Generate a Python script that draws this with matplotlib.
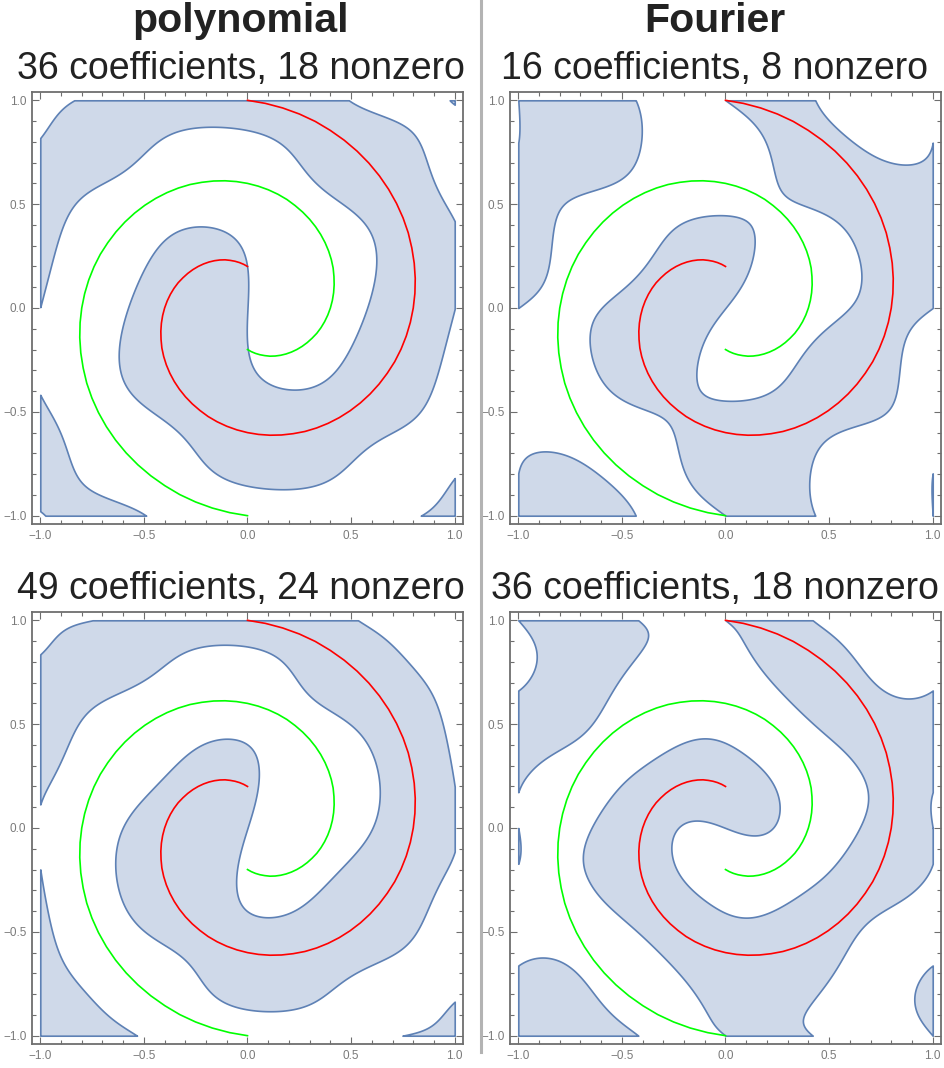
import numpy as np
import matplotlib
matplotlib.use("Agg")
import matplotlib.pyplot as plt
from matplotlib.lines import Line2D
from matplotlib.ticker import MultipleLocator

plt.rcParams["font.family"] = ["Liberation Sans", "DejaVu Sans"]

# red arm of the spiral, polar samples (degrees, radius); the green arm is the red one turned by 180 deg
spiral_angle = [90, 85, 80, 75, 70, 65, 60, 55, 50, 45, 40, 35, 30, 25, 20, 15, 10, 5, 0,
                -5, -10, -15, -20, -25, -30, -35, -40, -45, -50, -55, -60, -65, -70, -75, -80,
                -85, -90, -95, -100, -105, -110, -115, -120, -125, -130, -135, -140, -145, -150,
                -155, -160, -165, -170, -175, -180, -185, -190, -195, -200, -205, -210, -215,
                -220, -225, -230, -235, -240, -245, -250, -255, -260, -265, -270]
spiral_radius = [1.000, 0.989, 0.978, 0.967, 0.956, 0.944, 0.933, 0.922, 0.911, 0.900, 0.889,
                 0.878, 0.867, 0.856, 0.844, 0.833, 0.822, 0.811, 0.800, 0.789, 0.778, 0.767,
                 0.756, 0.744, 0.733, 0.722, 0.711, 0.700, 0.689, 0.678, 0.667, 0.656, 0.644,
                 0.633, 0.622, 0.611, 0.600, 0.589, 0.578, 0.567, 0.556, 0.544, 0.533, 0.522,
                 0.511, 0.500, 0.489, 0.478, 0.467, 0.456, 0.444, 0.433, 0.422, 0.411, 0.400,
                 0.389, 0.378, 0.367, 0.356, 0.344, 0.333, 0.322, 0.311, 0.300, 0.289, 0.278,
                 0.267, 0.256, 0.244, 0.233, 0.222, 0.211, 0.200]

col_titles = ["polynomial", "Fourier"]
panel_titles = ["36 coefficients, 18 nonzero", "16 coefficients, 8 nonzero",
                "49 coefficients, 24 nonzero", "36 coefficients, 18 nonzero"]

# nonzero coefficients of each fit (odd terms only)
poly36_coef = [0.2468, -7.509, 9.7832, -5.0634, 23.178, -18.415, -13.782, 84.118, -78.906,
               20.264, -66.194, 38.377, 18.755, -94.028, 80.55, -15.179, 35.26, -10.848]
four16_coef = [-0.44568, 0.2526, -0.022309, -0.40789, 0.15049, 0.62435, -0.81591, 0.11048]
poly49_coef = [1.5821, -11.884, 12.853, -5.0215, 22.302, -15.802, -1.9073, -41.685, 175.55,
               -143.06, 18.675, -32.98, -60.775, 72.354, 102.05, -366.99, 272.08, -13.358,
               -2.8054, 102.79, -82.924, -60.785, 199.19, -139.76]
four36_coef = [-0.4466, 0.25302, 0.57194, -0.02307, -0.40713, 0.15359, 0.15141, 0.62393,
               -0.062398, -0.81694, 0.11151, 0.20883, 0.1848, -0.084451, -0.018492, 0.49944,
               0.28194, 0.024564]


def poly_terms(n):
    # x^i y^j with i+j odd
    return [(i, j) for i in range(n) for j in range(n) if (i + j) % 2 == 1]


def four_terms(ks):
    # cos/sin(k pi x) * cos/sin(l pi y), odd products only
    fx = [(k, p) for k in ks for p in (0, 1)]
    return [(a, pa, b, pb) for a, pa in fx for b, pb in fx if (pa + pb) % 2 == 1]


def eval_poly(terms, coef, x, y):
    return sum(c * x ** i * y ** j for (i, j), c in zip(terms, coef))


def eval_four(terms, coef, x, y):
    f = lambda k, p, v: np.sin(k * np.pi * v) if p else np.cos(k * np.pi * v)
    return sum(c * f(a, pa, x) * f(b, pb, y) for (a, pa, b, pb), c in zip(terms, coef))


panels = [(eval_poly, poly_terms(6), poly36_coef), (eval_four, four_terms([1, 2]), four16_coef),
          (eval_poly, poly_terms(7), poly49_coef), (eval_four, four_terms([1, 2, 3]), four36_coef)]

g = np.linspace(-1, 1, 401)
GX, GY = np.meshgrid(g, g)

ang = np.radians(spiral_angle)
rad = np.array(spiral_radius)
xr, yr = rad * np.cos(ang), rad * np.sin(ang)

W, H = 945, 1068
fig = plt.figure(figsize=(W / 100, H / 100), dpi=100)
boxes = [(32, 92), (510, 92), (32, 612), (510, 612)]
for (px, py), (ev, terms, coef), ttl in zip(boxes, panels, panel_titles):
    ax = fig.add_axes([px / W, 1 - (py + 432) / H, 431 / W, 432 / H])
    F = ev(terms, coef, GX, GY)
    cs = ax.contourf(GX, GY, F, levels=[0, np.abs(F).max() + 1], colors=["#cfd9e9"])
    cs.set_edgecolor("#5e81b5")
    cs.set_linewidth(1.2)
    ax.plot(xr, yr, color="#ff0000", lw=1.2)
    ax.plot(-xr, -yr, color="#00ff00", lw=1.2)
    ax.set_xlim(-1.04, 1.04)
    ax.set_ylim(-1.04, 1.04)
    ticks = [-1, -0.5, 0, 0.5, 1]
    labs = ["\u22121.0", "\u22120.5", "0.0", "0.5", "1.0"]
    ax.set_xticks(ticks, labs)
    ax.set_yticks(ticks, labs)
    ax.xaxis.set_minor_locator(MultipleLocator(0.1))
    ax.yaxis.set_minor_locator(MultipleLocator(0.1))
    ax.tick_params(which="both", direction="in", top=True, right=True, color="#6e6e6e",
                   width=0.8, labelsize=8.5, labelcolor="#7a7a7a", pad=4)
    ax.tick_params(which="major", length=5)
    ax.tick_params(which="minor", length=3)
    for s in ax.spines.values():
        s.set_color("#6e6e6e")
        s.set_linewidth(1.3)
    cx = 241 if px < 400 else 715
    fig.text(cx / W, 1 - (py - 13) / H, ttl, ha="center", va="baseline", fontsize=27,
             color="#222222")

fig.text(241 / W, 1 - 32 / H, col_titles[0], ha="center", va="baseline", fontsize=29.5,
         fontweight="bold", color="#222222")
fig.text(715 / W, 1 - 32 / H, col_titles[1], ha="center", va="baseline", fontsize=29.5,
         fontweight="bold", color="#222222")
fig.add_artist(Line2D([481 / W, 481 / W], [1, 1 - 1052 / H], color="#b3b3b3", lw=2.2))

fig.savefig("out.png", dpi=100)
